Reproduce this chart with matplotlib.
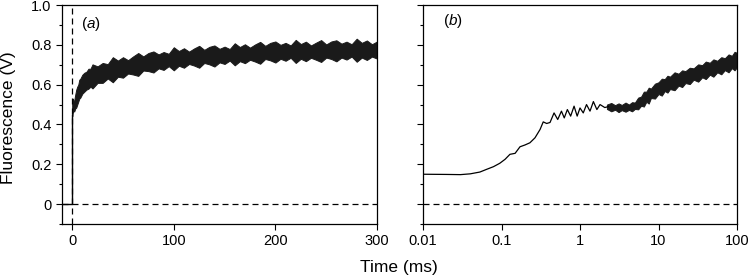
import matplotlib
matplotlib.use("Agg")
import matplotlib.pyplot as plt
from matplotlib.ticker import MultipleLocator, FixedLocator, FuncFormatter, NullLocator

plt.rcParams['font.family'] = ['Liberation Sans', 'DejaVu Sans']
plt.rcParams['mathtext.fontset'] = 'custom'
plt.rcParams['mathtext.rm'] = 'Liberation Sans'
plt.rcParams['mathtext.it'] = 'Liberation Sans:italic'

# panel (a): trace before trigger, then noisy band (lower/upper edges)
t_pre = [-10, -2, 0, 0]
y_pre = [0.0, 0.0, 0.0, 0.45]

t_a = [0, 0.5, 1, 2, 3, 4, 5, 6, 7, 8, 10, 12, 14, 16, 18,
       20, 25, 30, 35, 40, 45, 50, 55, 60, 65, 70, 75, 80, 85, 90, 95,
       100, 105, 110, 115, 120, 125, 130, 135, 140, 145, 150, 155, 160, 165,
       170, 175, 180, 185, 190, 195, 200, 205, 210, 215, 220, 225, 230, 235,
       240, 245, 250, 255, 260, 265, 270, 275, 280, 285, 290, 295, 300]
lo_a = [0.44, 0.46, 0.47, 0.465, 0.48, 0.485, 0.50, 0.515, 0.53, 0.535, 0.555, 0.565, 0.575, 0.58, 0.59,
        0.581, 0.609, 0.609, 0.631, 0.612, 0.640, 0.635, 0.656, 0.651, 0.644, 0.671, 0.668, 0.661, 0.682, 0.674, 0.693,
        0.672, 0.695, 0.685, 0.704, 0.696, 0.685, 0.709, 0.702, 0.691, 0.712, 0.704, 0.721, 0.697, 0.718,
        0.708, 0.725, 0.716, 0.705, 0.729, 0.722, 0.711, 0.730, 0.720, 0.735, 0.709, 0.730, 0.718, 0.735,
        0.725, 0.714, 0.736, 0.729, 0.717, 0.736, 0.726, 0.741, 0.715, 0.736, 0.724, 0.741, 0.731]
hi_a = [0.50, 0.53, 0.52, 0.52, 0.55, 0.575, 0.59, 0.60, 0.625, 0.63, 0.65, 0.66, 0.665, 0.68, 0.68,
        0.702, 0.692, 0.709, 0.703, 0.738, 0.721, 0.738, 0.723, 0.742, 0.759, 0.742, 0.759, 0.767, 0.752, 0.764, 0.755,
        0.788, 0.769, 0.783, 0.766, 0.782, 0.795, 0.775, 0.790, 0.797, 0.780, 0.791, 0.779, 0.808, 0.789,
        0.803, 0.786, 0.802, 0.815, 0.795, 0.810, 0.817, 0.800, 0.810, 0.797, 0.825, 0.804, 0.816, 0.797,
        0.811, 0.824, 0.802, 0.817, 0.823, 0.806, 0.816, 0.803, 0.831, 0.810, 0.822, 0.803, 0.817]

# panel (b): smooth trace at short times, noisy band later (log time)
t_b = [0.01, 0.02, 0.03, 0.04, 0.053, 0.065, 0.079, 0.095, 0.111, 0.128, 0.149, 0.172,
       0.199, 0.23, 0.267, 0.31, 0.34, 0.376, 0.415, 0.467, 0.52, 0.58, 0.63, 0.69,
       0.76, 0.84, 0.92, 1.0, 1.1, 1.21, 1.34, 1.48, 1.64, 1.8, 2.07, 2.3]
y_b = [0.15, 0.149, 0.148, 0.152, 0.161, 0.175, 0.188, 0.205, 0.225, 0.25, 0.255, 0.288,
       0.297, 0.308, 0.333, 0.375, 0.413, 0.405, 0.41, 0.458, 0.425, 0.467, 0.433, 0.475,
       0.442, 0.492, 0.442, 0.483, 0.458, 0.50, 0.467, 0.515, 0.475, 0.50, 0.485, 0.49]

t_band_b = [2.2, 2.5, 2.8, 3.1, 3.4, 3.8, 4.2, 4.6, 5, 5.5, 6, 6.5, 7, 7.5, 8, 9, 10, 11, 12,
            13, 14, 16, 18, 20, 22, 25, 28, 32, 36, 40, 45, 50, 56, 63, 70, 78, 86, 93, 100]
lo_b = [0.478, 0.466, 0.474, 0.462, 0.472, 0.464, 0.473, 0.466, 0.478, 0.476, 0.494, 0.490,
        0.514, 0.505, 0.533, 0.530, 0.553, 0.545, 0.568, 0.560, 0.578, 0.572, 0.595, 0.588,
        0.608, 0.603, 0.625, 0.615, 0.637, 0.628, 0.650, 0.640, 0.662, 0.652, 0.673, 0.662,
        0.683, 0.672, 0.688]
hi_b = [0.500, 0.508, 0.497, 0.506, 0.498, 0.510, 0.500, 0.512, 0.510, 0.535, 0.540, 0.565,
        0.565, 0.585, 0.580, 0.605, 0.612, 0.630, 0.628, 0.645, 0.640, 0.662, 0.655, 0.672,
        0.668, 0.685, 0.682, 0.702, 0.698, 0.716, 0.710, 0.727, 0.720, 0.738, 0.733, 0.752,
        0.745, 0.765, 0.760]

y_ticks = [0, 0.2, 0.4, 0.6, 0.8, 1.0]
xa_ticks = [0, 100, 200, 300]
xb_ticks = [0.01, 0.1, 1, 10, 100]
xb_labels = ['0.01', '0.1', '1', '10', '100']

fig = plt.figure(figsize=(7.5, 2.8), dpi=100)
ax1 = fig.add_axes([0.0827, 0.2, 0.42, 0.782])
ax2 = fig.add_axes([0.564, 0.2, 0.4187, 0.782])

dash = (0, (4.8, 3.2))

# panel a
ax1.plot(t_pre, y_pre, color='black', lw=1.0)
ax1.fill_between(t_a, lo_a, hi_a, color='#1a1a1a', lw=0.7, edgecolor='#1a1a1a')
ax1.axhline(0, color='black', lw=0.9, ls=dash)
ax1.axvline(0, color='black', lw=0.9, ls=dash)
ax1.set_xlim(-10, 300)
ax1.xaxis.set_major_locator(FixedLocator(xa_ticks))
ax1.text(0.06, 0.915, r'($\mathit{a}$)', transform=ax1.transAxes, fontsize=11, va='center')

# panel b
ax2.plot(t_b, y_b, color='black', lw=0.9)
ax2.fill_between(t_band_b, lo_b, hi_b, color='#1a1a1a', lw=0.7, edgecolor='#1a1a1a')
ax2.axhline(0, color='black', lw=0.9, ls=dash)
ax2.set_xscale('log')
ax2.set_xlim(0.01, 100)
ax2.xaxis.set_major_locator(FixedLocator(xb_ticks))
ax2.xaxis.set_minor_locator(NullLocator())
ax2.set_xticklabels(xb_labels)
ax2.text(0.064, 0.925, r'($\mathit{b}$)', transform=ax2.transAxes, fontsize=11, va='center')

for ax in (ax1, ax2):
    ax.set_ylim(-0.1, 1.0)
    ax.yaxis.set_major_locator(FixedLocator(y_ticks))
    ax.yaxis.set_minor_locator(MultipleLocator(0.1))
    ax.tick_params(which='major', direction='out', length=4.5, width=0.8, labelsize=10.5, pad=3)
    ax.tick_params(which='minor', direction='out', length=2.5, width=0.8)
    ax.tick_params(top=False, right=False, which='both')
    for s in ax.spines.values():
        s.set_linewidth(0.9)

ax1.yaxis.set_major_formatter(FuncFormatter(lambda v, p: '0' if abs(v) < 1e-9 else '%.1f' % v))
ax2.tick_params(axis='y', labelleft=False)

fig.text(0.011, 0.579, 'Fluorescence (V)', rotation=90, ha='center', va='center', fontsize=12.5)
fig.text(0.532, 0.043, 'Time (ms)', ha='center', va='center', fontsize=12.5)

fig.savefig('out.png', dpi=100)
